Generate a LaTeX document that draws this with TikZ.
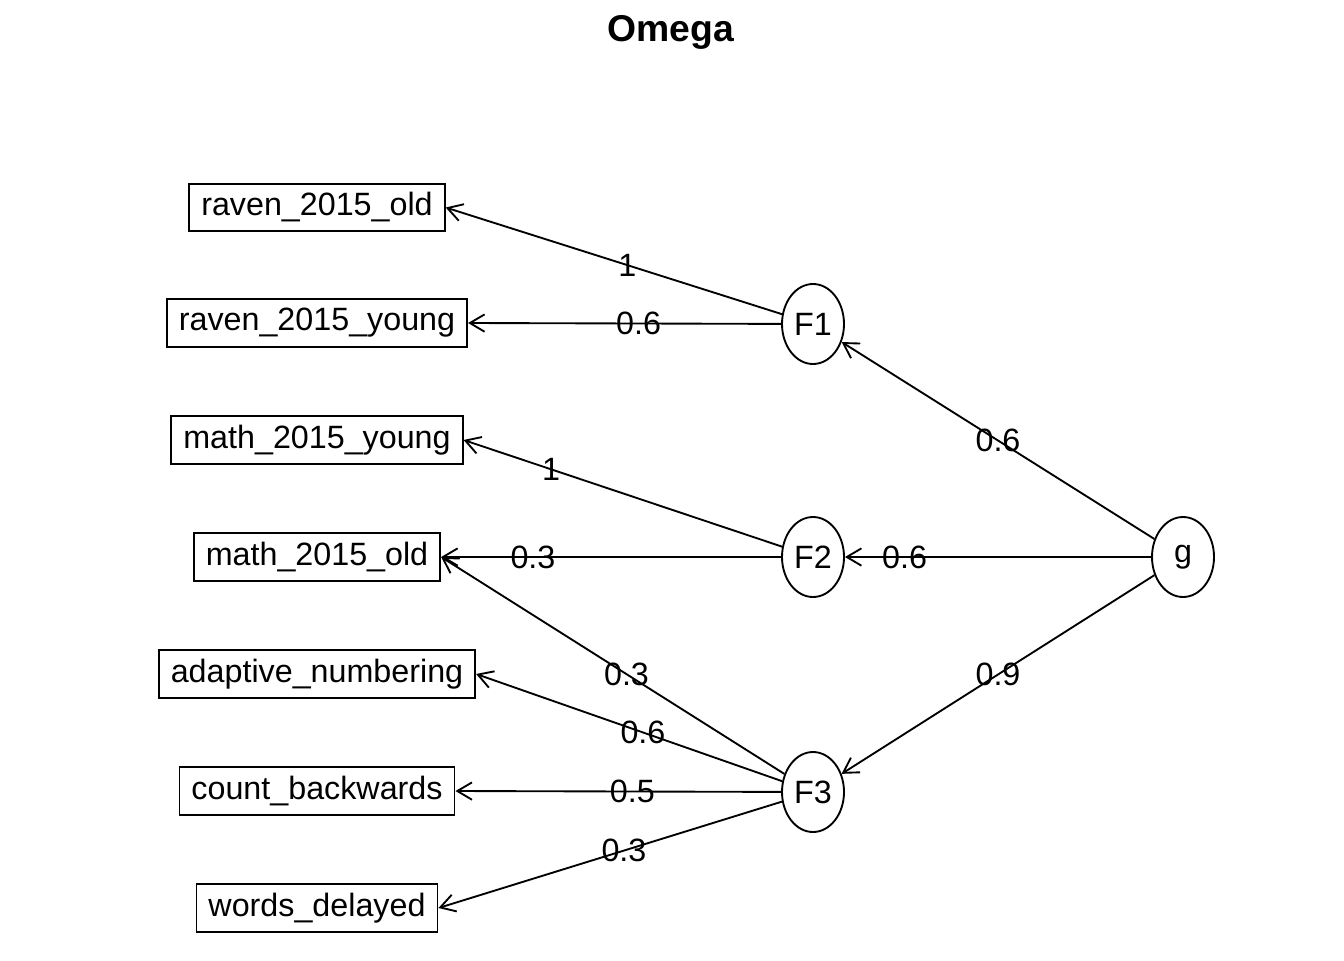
\documentclass[tikz,border=0pt]{standalone}
\usepackage{fontspec}
\setmainfont{Liberation Sans}
\usetikzlibrary{shapes.geometric,arrows.meta}
\begin{document}
\begin{tikzpicture}[x=0.75pt,y=-0.75pt,
  every node/.style={font=\fontsize{24.2pt}{29pt}\selectfont},
  obs/.style={draw,line width=1.4pt,rectangle,inner xsep=9pt,minimum height=35.5pt},
  lat/.style={draw,line width=1.4pt,ellipse,inner sep=0pt,minimum width=46.5pt,minimum height=60pt},
  load/.style={line width=1.4pt,-{Straight Barb[length=11pt,width=13pt,line width=1.4pt]}},
  lbl/.style={inner sep=0pt}]
\useasboundingbox (0,0) rectangle (1344,960);

% title
\node[font=\bfseries\fontsize{28pt}{32pt}\selectfont] (title) at (671,32.5) {Omega};

% observed variables
\node[obs] (r1) at (317,207.5) {raven\_2015\_old};
\node[obs] (r2) at (317,323) {raven\_2015\_young};
\node[obs] (m1) at (317,440) {math\_2015\_young};
\node[obs] (m2) at (317,557) {math\_2015\_old};
\node[obs] (an) at (317,674) {adaptive\_numbering};
\node[obs] (cb) at (317,791) {count\_backwards};
\node[obs] (wd) at (317,908) {words\_delayed};

% latent factors
\node[lat] (F1) at (813,324) {F1};
\node[lat] (F2) at (813,557) {F2};
\node[lat] (F3) at (813,792) {F3};
\node[lat] (g) at (1183,557) {g};

% group factor loadings
\draw[load] (F1) -- (r1.east) node[lbl,pos=0.46] {1};
\draw[load] (F1) -- (r2.east) node[lbl,pos=0.455] {0.6};
\draw[load] (F2) -- (m1.east) node[lbl,pos=0.725] {1};
\draw[load] (F2) -- (m2.east) node[lbl,pos=0.73] {0.3};
\draw[load] (F3) -- (m2.east) node[lbl,pos=0.46] {0.3};
\draw[load] (F3) -- (an.east) node[lbl,pos=0.455] {0.6};
\draw[load] (F3) -- (cb.east) node[lbl,pos=0.457] {0.5};
\draw[load] (F3) -- (wd.east) node[lbl,pos=0.46] {0.3};

% general factor loadings
\draw[load] (g) -- (F1) node[lbl,pos=0.5] {0.6};
\draw[load] (g) -- (F2) node[lbl,pos=0.805] {0.6};
\draw[load] (g) -- (F3) node[lbl,pos=0.5] {0.9};
\end{tikzpicture}
\end{document}
